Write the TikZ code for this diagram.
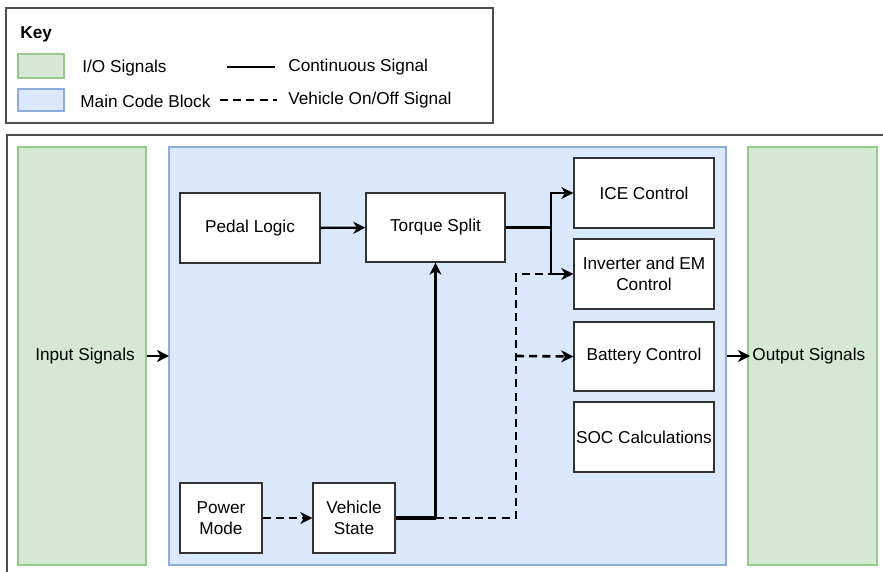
\documentclass[tikz,border=0pt]{standalone}
\usepackage{fontspec}
\setmainfont{Liberation Sans}
\usetikzlibrary{arrows.meta}
\definecolor{iofill}{HTML}{D5E8D4}
\definecolor{iodraw}{HTML}{97C98A}
\definecolor{mainfill}{HTML}{DAE8FC}
\definecolor{maindraw}{HTML}{8FAADC}
\definecolor{frame}{HTML}{4D4D4D}
\tikzset{
  iobox/.style={draw=iodraw, fill=iofill, line width=0.6pt},
  mainbox/.style={draw=maindraw, fill=mainfill, line width=0.6pt},
  block/.style={draw=black!80, fill=white, line width=0.7pt, align=center, inner sep=0pt},
  tip/.style={-{Stealth[length=6pt,width=6pt,inset=1.8pt]}},
  conn/.style={line width=1.2pt, tip},
  plain/.style={line width=1.2pt},
  trunk/.style={line width=1.6pt},
  dconn/.style={line width=1.3pt, dash pattern=on 4pt off 2.6pt},
  lbl/.style={font=\fontsize{8.6}{10}\selectfont, inner sep=0pt},
}
\begin{document}
\begin{tikzpicture}[x=0.5pt, y=-0.5pt, font=\fontsize{8.6}{10.3}\selectfont]
\useasboundingbox (0,0) rectangle (883,572);
\fill[white] (0,0) rectangle (883,572);
% key
\draw[frame, line width=0.8pt] (6,8) rectangle (493,123);
\node[lbl, anchor=west, font=\bfseries\fontsize{8.6}{10}\selectfont] (key) at (20,34) {Key};
\draw[iobox] (18,54) rectangle (64,78);
\draw[mainbox] (18,89) rectangle (64,111);
\node[lbl, anchor=west] (kio) at (82,68) {I/O Signals};
\node[lbl, anchor=west] (kmain) at (80,101) {Main Code Block};
\coordinate (ks1) at (227,67);
\coordinate (ks2) at (275,67);
\draw[plain] (ks1) -- (ks2);
\node[lbl, anchor=west] (kcont) at (288,67) {Continuous Signal};
\coordinate (kd1) at (220,100);
\coordinate (kd2) at (277,100);
\draw[dconn] (kd1) -- (kd2);
\node[lbl, anchor=west] (kveh) at (288,100) {Vehicle On/Off Signal};
% frame
\draw[frame, line width=0.8pt] (7,135) rectangle (900,600);
% regions
\draw[iobox] (18,147) rectangle (146,565);
\draw[mainbox] (169,147) rectangle (726,565);
\draw[iobox] (748,147) rectangle (877,565);
\node[lbl] (inp) at (85,356) {Input Signals};
\node[lbl, anchor=west] (outp) at (752,356) {Output Signals};
\coordinate (inR) at (147,356);
\coordinate (mainL) at (169,356);
\coordinate (mainR) at (727,356);
\coordinate (outL) at (750,356);
\draw[conn] (inR) -- (mainL);
\draw[conn] (mainR) -- (outL);
% blocks
\node[block, minimum width=70pt, minimum height=35pt] (pedal) at (250,228) {Pedal Logic};
\node[block, minimum width=69.5pt, minimum height=34.5pt] (torque) at (435.5,227.5) {Torque Split};
\node[block, minimum width=70pt, minimum height=35pt] (ice) at (644,193) {ICE Control};
\node[block, minimum width=70pt, minimum height=35pt] (inv) at (644,274) {Inverter and EM\\Control};
\node[block, minimum width=70pt, minimum height=34.5pt] (bat) at (644,356.5) {Battery Control};
\node[block, minimum width=70pt, minimum height=35pt] (soc) at (644,437) {};
\node[lbl] (soct) at (644,437) {SOC Calculations};
\node[block, minimum width=41pt, minimum height=35pt] (power) at (221,518) {Power\\Mode};
\node[block, minimum width=41pt, minimum height=35pt] (veh) at (354,518) {Vehicle\\State};
% connectors
\coordinate (j1) at (551,227.5);
\coordinate (j2) at (435.5,518);
\coordinate (d1) at (516,518);
\coordinate (d2) at (516,274);
\coordinate (d3) at (516,356);
\draw[conn] (pedal) -- (torque);
\draw[trunk] (torque.east) -- (j1);
\draw[conn] (j1) |- (ice.west);
\draw[conn] (j1) |- (inv.west);
\draw[trunk] (veh.east |- j2) -- (j2);
\draw[conn] (j2) -- (torque.south);
\draw[dconn] (j2) -- (d1) -- (d2) -- (j1 |- d2);
\draw[dconn, tip] (d3) -- (bat.west);
\draw[dconn, tip] (power) -- (veh);
\end{tikzpicture}
\end{document}
